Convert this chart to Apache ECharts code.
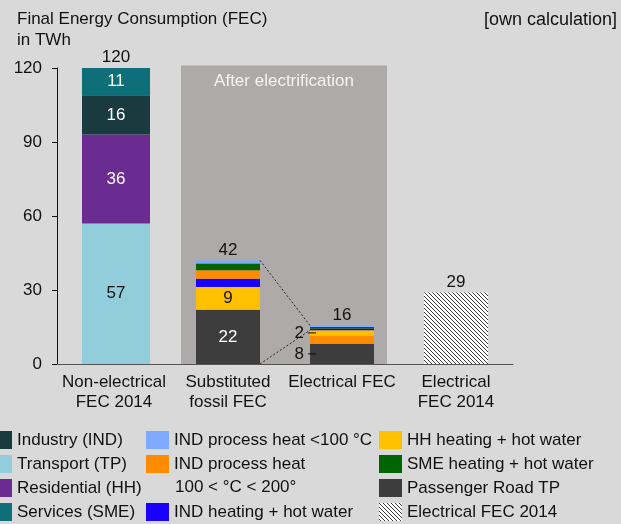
<!DOCTYPE html>
<html><head><meta charset="utf-8">
<script src="https://cdn.jsdelivr.net/npm/echarts@6/dist/echarts.min.js"></script>
<style>html,body{margin:0;padding:0;background:#d9d9d9}#c{width:621px;height:524px}</style>
</head><body><div id="c"></div><script>
// ---------- data ----------
const categories = ['Non-electrical\nFEC 2014', 'Substituted\nfossil FEC', 'Electrical FEC', 'Electrical\nFEC 2014'];
const yTicks = [0, 30, 60, 90, 120];
const transport          = [57, null, null, null];
const residential        = [36, null, null, null];
const industry           = [16, null, null, null];
const services           = [11, null, null, null];
const passengerRoadTP    = [null, 22, 8.2, null];
const indProcessMidElec  = [null, null, 3.3, null];   // orange, sits below HH in electrical FEC
const hhHeating          = [null, 9.2, 2.2, null];
const indHeating         = [null, 3.4, 0.7, null];
const indProcessMidFossil= [null, 3.4, null, null];   // orange, above IND heating in fossil FEC
const smeHeating         = [null, 2.7, 0.6, null];
const indProcessLow      = [null, 1.3, 0.6, null];
const electricalFEC2014  = [null, null, null, 29];
const totals             = [120, 42, 16, 29];
const afterElectrification = [[1, 2, 121]];            // from category, to category, top value
const connectors = [[1, 42, 2, 15.6], [1, 0, 2, 13.7]]; // cat, value -> cat, value

// ---------- styling ----------
const FONT = '"Liberation Sans", Arial, sans-serif';
const TXT = '#111';
const BAR_W = 64;
const BAR_W_FIRST = 68;
const ORANGE_NAME = 'IND process heat 100 < °C < 200°';

function hatch() {
  const c = document.createElement('canvas');
  c.width = 4; c.height = 4;
  const g = c.getContext('2d');
  g.fillStyle = '#ffffff'; g.fillRect(0, 0, 4, 4);
  g.strokeStyle = '#222'; g.lineWidth = 0.9;
  for (const k of [-4, 0, 4]) { g.beginPath(); g.moveTo(k, 0); g.lineTo(k + 4, 4); g.stroke(); }
  return c;
}

const insideWhite = { show: true, position: 'inside', color: '#fff', fontSize: 17, fontFamily: FONT, formatter: p => Math.round(p.value) };
const insideBlack = { show: true, position: 'inside', color: TXT, fontSize: 17, fontFamily: FONT, formatter: p => Math.round(p.value) };
const sideLabel = {
  show: true, position: 'left', distance: -6,
  formatter: p => '{n|' + Math.round(p.value) + '}{s|}{d|}',
  rich: {
    n: { fontSize: 17, color: TXT, fontFamily: FONT },
    s: { width: 4 },
    d: { width: 8, height: 1, backgroundColor: TXT, verticalAlign: 'middle' }
  }
};
function items(arr, labels) {
  return arr.map((v, i) => {
    if (v == null) return '-';
    const l = labels && labels[i];
    return l ? { value: v, label: l } : v;
  });
}
function bar(name, arr, color, labels, stack, w) {
  return { name, type: 'bar', stack: stack || 'fec', barWidth: w || BAR_W, barGap: '-100%', data: items(arr, labels),
    itemStyle: { color }, label: { show: false } };
}
function totalSeries(stack, w, mask) {
  return { name: 'total-' + stack, type: 'bar', stack, barWidth: w, barGap: '-100%', silent: true,
    data: totals.map((t, i) => mask[i] ? 0 : '-'),
    itemStyle: { color: 'rgba(0,0,0,0)' },
    label: { show: true, position: 'top', distance: 2, color: TXT, fontSize: 17, fontFamily: FONT, formatter: p => totals[p.dataIndex] } };
}

const series = [
  { type: 'custom', name: 'bg', z: 0, silent: true, encode: { x: 0, y: 2 }, data: afterElectrification,
    renderItem(params, api) {
      const x1 = api.coord([api.value(0), 0])[0] - 47;
      const x2 = api.coord([api.value(1), 0])[0] + 45;
      const yTop = api.coord([api.value(0), api.value(2)])[1];
      const yBot = api.coord([api.value(0), 0])[1];
      return { type: 'group', children: [
        { type: 'rect', shape: { x: x1, y: yTop, width: x2 - x1, height: yBot - yTop }, style: { fill: '#aeaaaa' } },
        { type: 'text', x: (x1 + x2) / 2, y: yTop + 16, style: { text: 'After electrification', fill: '#f4f4f4', fontSize: 17, fontFamily: FONT, align: 'center', verticalAlign: 'middle' } }
      ]};
    } },
  bar('Transport (TP)', transport, '#92cddc', [insideBlack], 'first', BAR_W_FIRST),
  bar('Residential (HH)', residential, '#6a2c91', [insideWhite], 'first', BAR_W_FIRST),
  bar('Industry (IND)', industry, '#193a3f', [insideWhite], 'first', BAR_W_FIRST),
  bar('Services (SME)', services, '#0f6f78', [insideWhite], 'first', BAR_W_FIRST),
  totalSeries('first', BAR_W_FIRST, [1, 0, 0, 0]),
  bar('Passenger Road TP', passengerRoadTP, '#3d3d3d', [null, insideWhite, sideLabel]),
  bar(ORANGE_NAME, indProcessMidElec, '#ff8c00'),
  bar('HH heating + hot water', hhHeating, '#ffc000', [null, insideBlack, sideLabel]),
  bar('IND heating + hot water', indHeating, '#1a00ff'),
  bar(ORANGE_NAME, indProcessMidFossil, '#ff8c00'),
  bar('SME heating + hot water', smeHeating, '#006400'),
  bar('IND process heat <100 °C', indProcessLow, '#7eaaff'),
  bar('Electrical FEC 2014', electricalFEC2014, { image: hatch(), repeat: 'repeat' }),
  totalSeries('fec', BAR_W, [0, 1, 1, 1]),
  { type: 'custom', name: 'conn', z: 5, silent: true, encode: { x: 0, y: 1 }, data: connectors,
    renderItem(params, api) {
      const p1 = api.coord([api.value(0), api.value(1)]);
      const p2 = api.coord([api.value(2), api.value(3)]);
      return { type: 'line', shape: { x1: p1[0] + BAR_W / 2, y1: p1[1], x2: p2[0] - BAR_W / 2, y2: p2[1] },
        style: { stroke: '#222', lineWidth: 1, lineDash: [2, 2] } };
    } }
];

const legendCommon = { type: 'plain', orient: 'vertical', icon: 'rect', itemWidth: 23, itemHeight: 18, itemGap: 4, padding: 0,
  selectedMode: false, textStyle: { fontSize: 17, color: TXT, fontFamily: FONT, lineHeight: 20 },
  formatter: n => n === ORANGE_NAME ? 'IND process heat' : n };

const option = {
  animation: false,
  backgroundColor: '#d9d9d9',
  textStyle: { fontFamily: FONT },
  title: [
    { text: 'Final Energy Consumption (FEC)\nin TWh', left: 12, top: 4,
      textStyle: { fontSize: 17, fontWeight: 'normal', color: TXT, lineHeight: 21, fontFamily: FONT } },
    { text: '[own calculation]', right: 4, top: 8, padding: 0,
      textStyle: { fontSize: 18, fontWeight: 'normal', color: TXT, fontFamily: FONT, lineHeight: 24 } }
  ],
  grid: { left: 57, right: 108, top: 68, bottom: 160 },
  xAxis: { type: 'category', data: categories,
    axisLine: { lineStyle: { color: '#555', width: 1 } }, axisTick: { show: false },
    axisLabel: { interval: 0, fontSize: 17, color: TXT, lineHeight: 20, margin: 8, fontFamily: FONT } },
  yAxis: { type: 'value', min: yTicks[0], max: yTicks[yTicks.length - 1], interval: yTicks[1] - yTicks[0],
    axisLine: { show: true, lineStyle: { color: '#111' } },
    axisTick: { show: true, length: 5, lineStyle: { color: '#111' } },
    splitLine: { show: false },
    axisLabel: { fontSize: 17, color: TXT, margin: 15, fontFamily: FONT } },
  legend: [
    Object.assign({}, legendCommon, { left: -11, top: 430, data: ['Industry (IND)', 'Transport (TP)', 'Residential (HH)', 'Services (SME)'] }),
    Object.assign({}, legendCommon, { left: 146, top: 430, data: ['IND process heat <100 °C', ORANGE_NAME] }),
    Object.assign({}, legendCommon, { left: 146, top: 502, data: ['IND heating + hot water'] }),
    Object.assign({}, legendCommon, { left: 379, top: 430, data: ['HH heating + hot water', 'SME heating + hot water', 'Passenger Road TP', 'Electrical FEC 2014'] })
  ],
  graphic: [
    { type: 'text', left: 175, top: 479, style: { text: '100 < °C < 200°', fontSize: 17, fill: TXT, fontFamily: FONT } }
  ],
  series
};
const chart = echarts.init(document.getElementById('c'), null, { renderer: 'canvas' });
chart.setOption(option);
</script></body></html>
